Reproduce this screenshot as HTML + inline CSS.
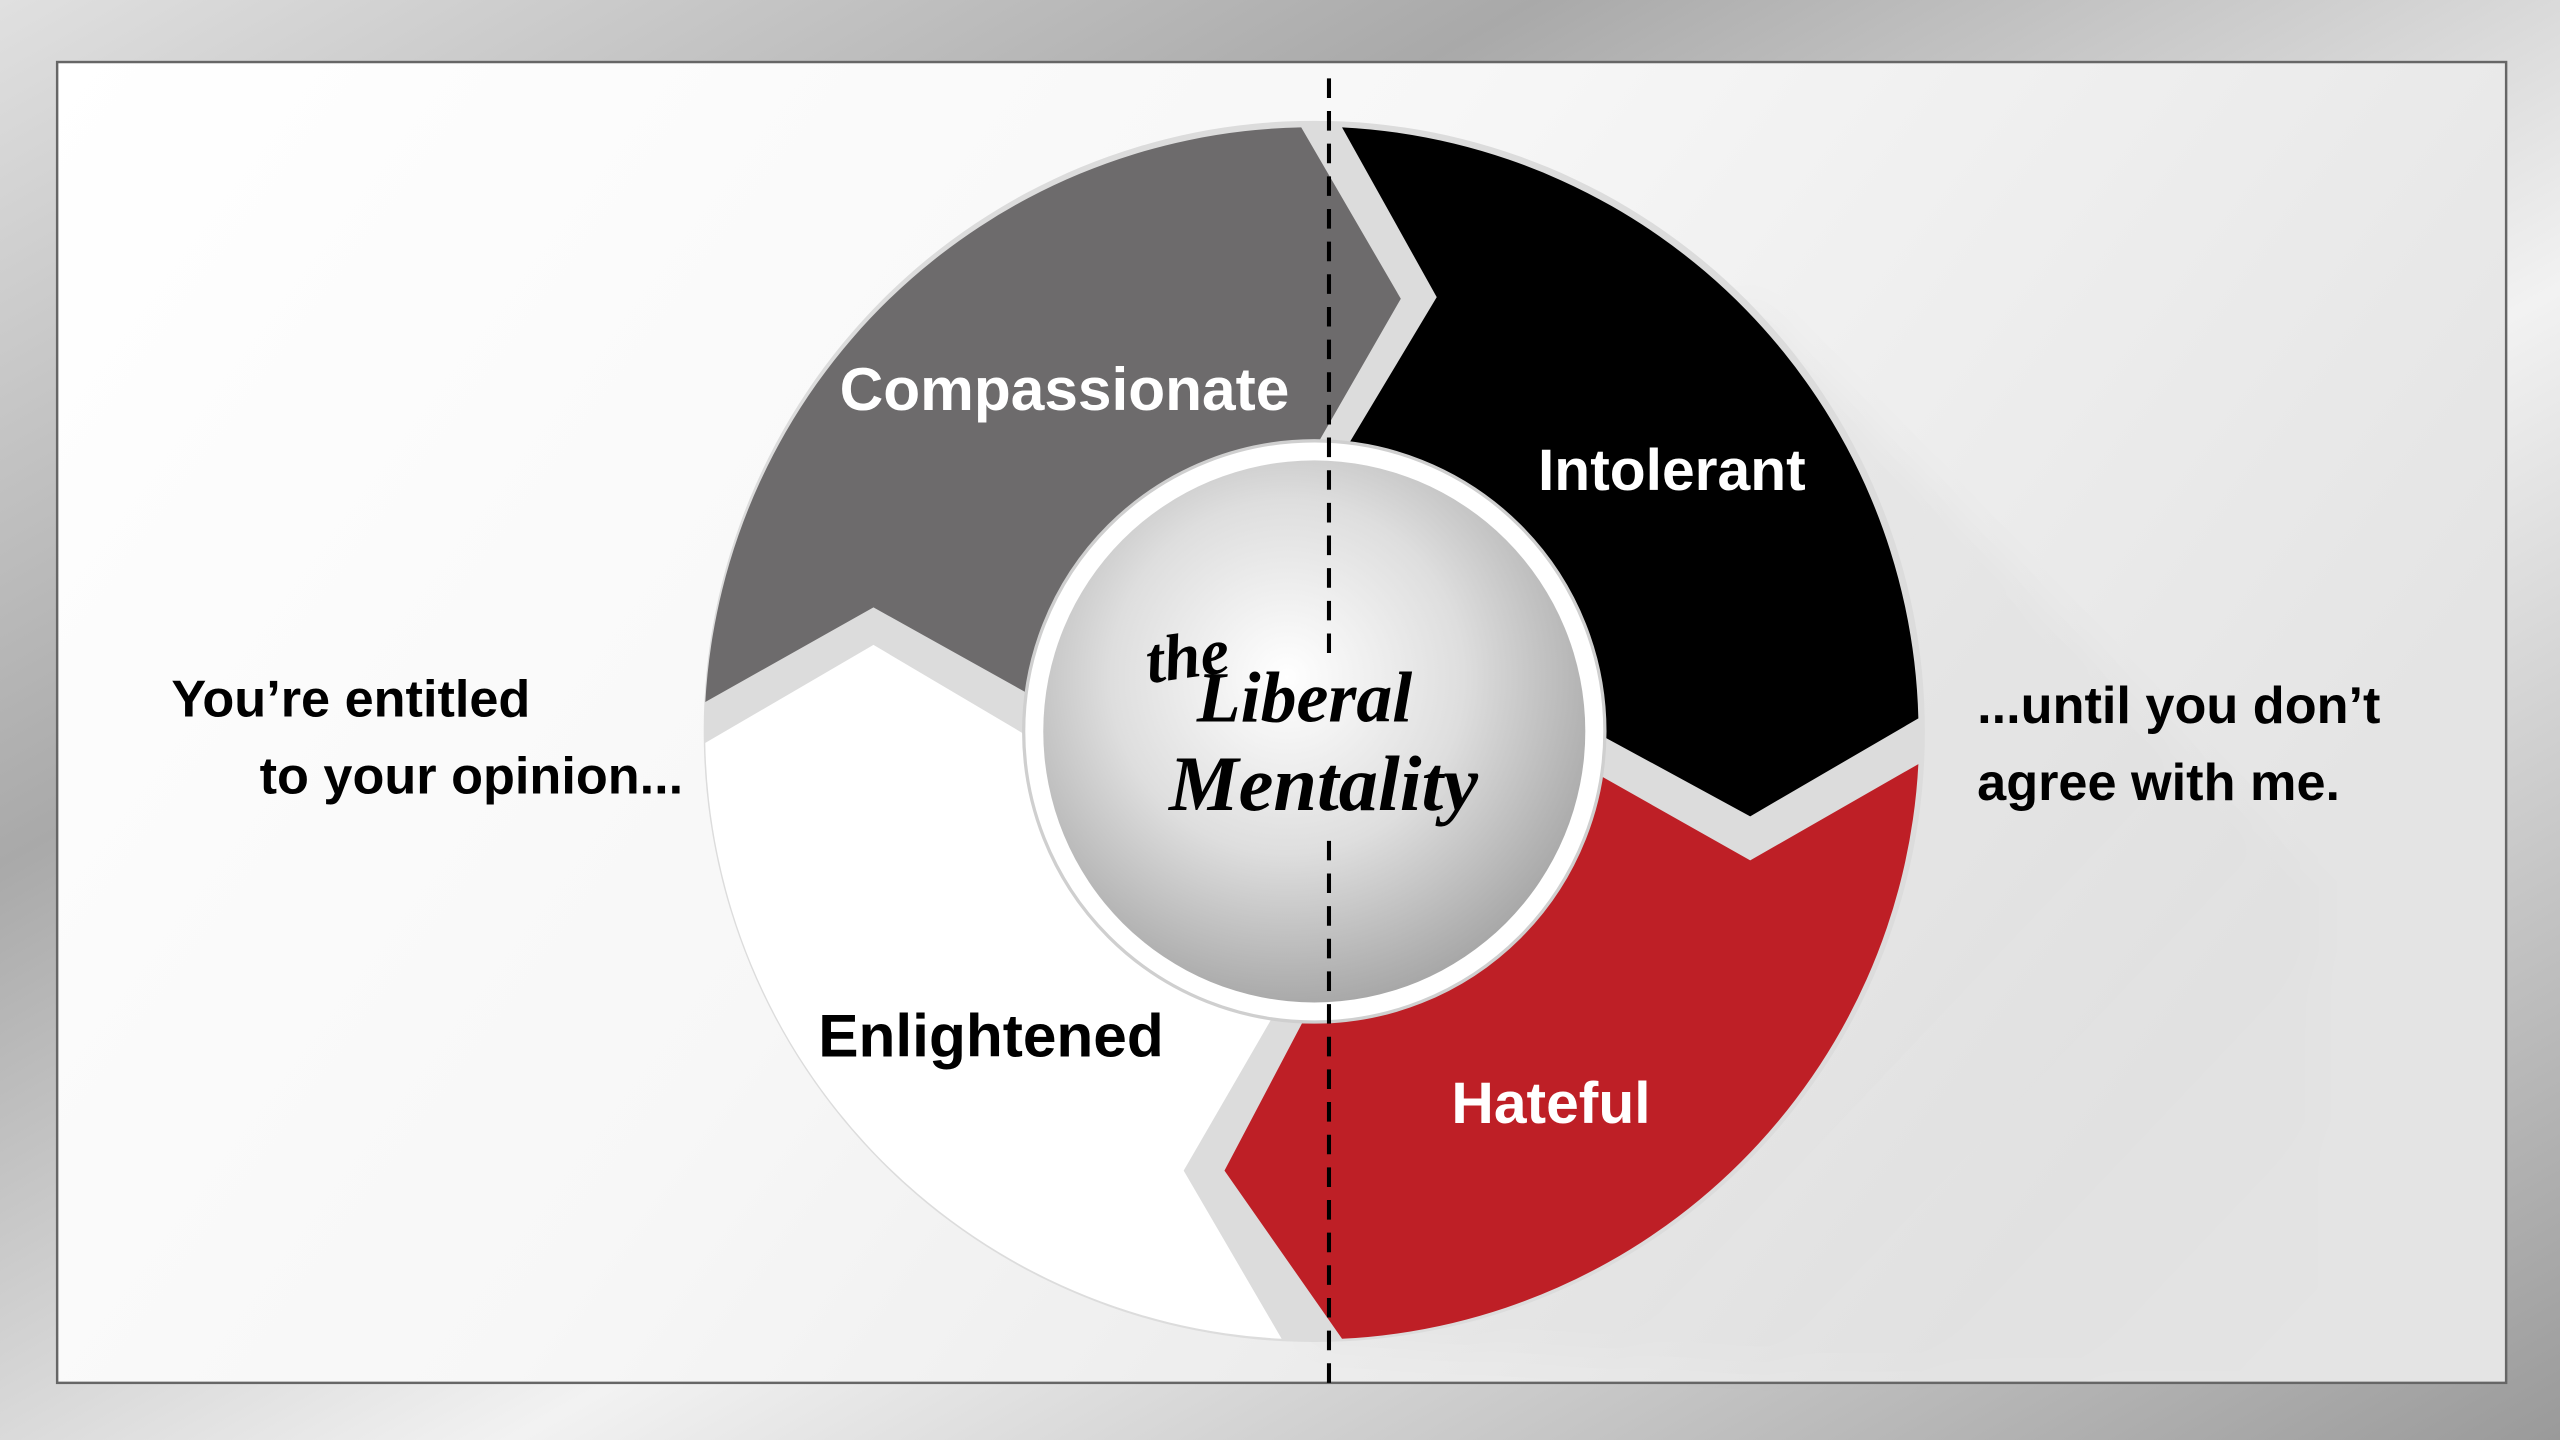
<!DOCTYPE html>
<html><head><meta charset="utf-8"><style>
html,body{margin:0;padding:0;width:2560px;height:1440px;overflow:hidden;background:#c8c8c8}
svg{display:block}
</style></head><body>
<svg width="2560" height="1440" viewBox="0 0 1568 882" xmlns="http://www.w3.org/2000/svg">
<defs>
<linearGradient id="frame" x1="0" y1="0" x2="1" y2="1">
<stop offset="0" stop-color="#e0e0e0"/><stop offset="0.3" stop-color="#a9a9a9"/><stop offset="0.6" stop-color="#f2f2f2"/><stop offset="1" stop-color="#9a9a9a"/>
</linearGradient>
<linearGradient id="bg" x1="0" y1="0" x2="1" y2="0.4">
<stop offset="0" stop-color="#ffffff"/><stop offset="0.5" stop-color="#f7f7f7"/><stop offset="1" stop-color="#e4e4e4"/>
</linearGradient>
<radialGradient id="disc" cx="0.45" cy="0.4" r="0.65">
<stop offset="0" stop-color="#ffffff"/><stop offset="0.5" stop-color="#dedede"/><stop offset="1" stop-color="#a0a0a0"/>
</radialGradient>
<linearGradient id="shadow" x1="0" y1="0" x2="1" y2="1">
<stop offset="0" stop-color="#000" stop-opacity="0.05"/><stop offset="1" stop-color="#000" stop-opacity="0"/>
</linearGradient>
<filter id="blur"><feGaussianBlur stdDeviation="12"/></filter>
</defs>
<rect x="0" y="0" width="1568" height="882" fill="url(#frame)"/>
<rect x="35" y="38" width="1500" height="809" fill="url(#bg)" stroke="#666" stroke-width="1.5"/>
<path d="M1068,185 L1420,540 L1420,840 L1100,840 L800,820 Z" fill="url(#shadow)" filter="url(#blur)"/>
<circle cx="805" cy="448" r="374" fill="#dcdcdc"/>
<path d="M805,448 L630,425 L535,372 L432,430 A373,373 0 0 1 797,78 L858,183 L808,270 Z" fill="#6d6b6c"/>
<path d="M805,448 L826,272 L880,182 L822,78 A372,372 0 0 1 1175,440 L1072,500 L980,450 Z" fill="#000"/>
<path d="M805,448 L980,475 L1072,527 L1175,468 A372,372 0 0 1 822,820 L750,717 L800,622 Z" fill="#be1f26"/>
<path d="M805,448 L780,622 L725,717 L785,820 A372,372 0 0 1 432,455 L535,395 L628,450 Z" fill="#ffffff"/>
<circle cx="805" cy="448" r="178" fill="#ffffff" stroke="#cfcfcf" stroke-width="2"/>
<circle cx="805" cy="448" r="166" fill="url(#disc)"/>
<line x1="814" y1="48" x2="814" y2="400" stroke="#000" stroke-width="2.5" stroke-dasharray="12,8"/>
<line x1="814" y1="515" x2="814" y2="848" stroke="#000" stroke-width="2.5" stroke-dasharray="12,8"/>
<g font-family="Liberation Sans, sans-serif" font-weight="bold">
<text x="652" y="251" font-size="37" fill="#fff" text-anchor="middle">Compassionate</text>
<text x="1024" y="300" font-size="36" fill="#fff" text-anchor="middle">Intolerant</text>
<text x="950" y="688" font-size="36" fill="#fff" text-anchor="middle">Hateful</text>
<text x="607" y="647" font-size="37" fill="#000" text-anchor="middle">Enlightened</text>
<text x="105" y="439" font-size="32" fill="#000">You’re entitled</text>
<text x="159" y="486" font-size="32" fill="#000">to your opinion...</text>
<text x="1211" y="443" font-size="32" fill="#000">...until you don’t</text>
<text x="1211" y="490" font-size="32" fill="#000">agree with me.</text>
</g>
<g font-family="Liberation Serif, serif" font-style="italic" font-weight="bold" fill="#000">
<text x="702" y="416" font-size="40" transform="rotate(-8 720 405)">the</text>
<text x="733" y="442" font-size="44">Liberal</text>
<text x="716" y="496" font-size="48">Mentality</text>
</g>
</svg>
</body></html>
